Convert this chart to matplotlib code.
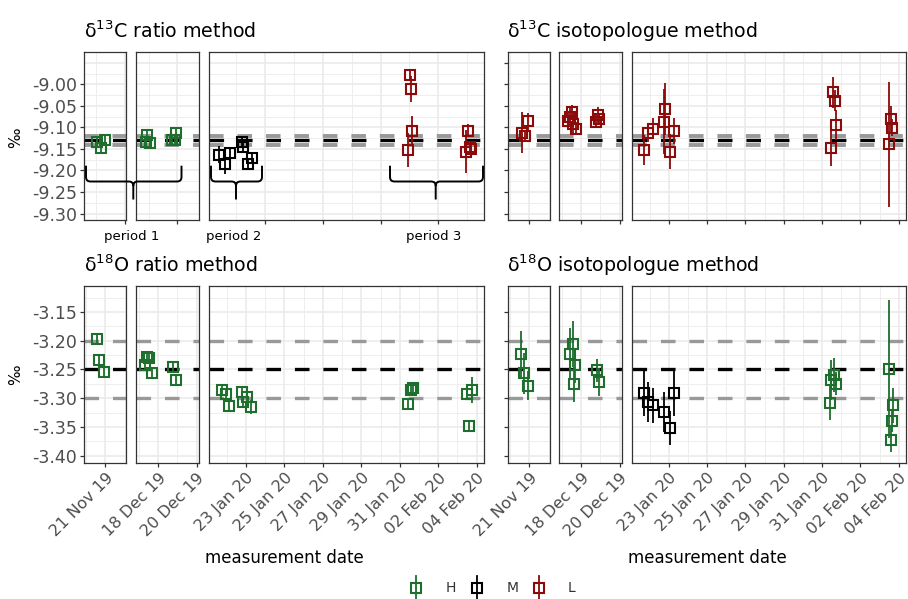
import matplotlib
matplotlib.use("Agg")
import matplotlib.pyplot as plt
import matplotlib.dates as mdates
from matplotlib.path import Path
from matplotlib.patches import PathPatch
from matplotlib.lines import Line2D
import pandas as pd

W, H = 908, 599
plt.rcParams['font.family'] = ['DejaVu Sans']
plt.rcParams['lines.scale_dashes'] = False

groups = ["H", "M", "L"]
group_colors = {"H": "#1e6e2d", "M": "#000000", "L": "#8b0a0a"}

# d13C, ratio method
c13_ratio_time = ["2019-11-20 13:30", "2019-11-20 18:00", "2019-11-20 23:00",
                  "2019-12-17 08:40", "2019-12-17 10:30", "2019-12-17 13:30",
                  "2019-12-18 17:15", "2019-12-18 21:20", "2019-12-18 22:30",
                  "2020-01-21 14:30", "2020-01-21 22:00", "2020-01-22 04:00",
                  "2020-01-22 18:30", "2020-01-22 19:40", "2020-01-23 02:30", "2020-01-23 07:30",
                  "2020-01-31 10:20", "2020-01-31 12:40", "2020-01-31 14:00", "2020-01-31 15:00",
                  "2020-02-03 10:50", "2020-02-03 13:00", "2020-02-03 15:40", "2020-02-03 16:30"]
c13_ratio_val = [-9.133, -9.148, -9.129,
                 -9.133, -9.118, -9.137, -9.129, -9.129, -9.112,
                 -9.163, -9.186, -9.159, -9.133, -9.145, -9.186, -9.171,
                 -9.153, -8.979, -9.011, -9.108, -9.156, -9.108, -9.145, -9.150]
c13_ratio_err = [0.01, 0.01, 0.01,
                 0.01, 0.01, 0.01, 0.01, 0.01, 0.01,
                 0.02, 0.022, 0.012, 0.01, 0.01, 0.012, 0.012,
                 0.04, 0.012, 0.03, 0.035, 0.05, 0.015, 0.012, 0.012]
c13_ratio_grp = ["H"] * 9 + ["M"] * 7 + ["L"] * 8

# d13C, isotopologue method
c13_iso_time = ["2019-11-20 14:30", "2019-11-20 18:00", "2019-11-20 22:00",
                "2019-12-17 08:00", "2019-12-17 10:00", "2019-12-17 12:00", "2019-12-17 13:30",
                "2019-12-17 18:00", "2019-12-18 19:00", "2019-12-18 20:30", "2019-12-18 22:00",
                "2020-01-21 16:50", "2020-01-21 22:00", "2020-01-22 03:50", "2020-01-22 17:45",
                "2020-01-22 19:40", "2020-01-23 01:30", "2020-01-23 06:40",
                "2020-01-31 11:20", "2020-01-31 13:10", "2020-01-31 15:50", "2020-01-31 17:00",
                "2020-02-03 12:00", "2020-02-03 14:10", "2020-02-03 16:05"]
c13_iso_val = [-9.112, -9.119, -9.086,
               -9.085, -9.076, -9.064, -9.091, -9.103, -9.087, -9.072, -9.080,
               -9.152, -9.114, -9.103, -9.087, -9.057, -9.156, -9.108,
               -9.149, -9.019, -9.038, -9.095, -9.139, -9.081, -9.101]
c13_iso_err = [0.047, 0.012, 0.02,
               0.02, 0.02, 0.015, 0.025, 0.015, 0.015, 0.02, 0.012,
               0.035, 0.02, 0.025, 0.075, 0.06, 0.04, 0.03,
               0.04, 0.035, 0.025, 0.035, 0.145, 0.03, 0.02]
c13_iso_grp = ["L"] * 25

# d18O, ratio method
o18_ratio_time = ["2019-11-20 13:30", "2019-11-20 16:00", "2019-11-20 22:00",
                  "2019-12-17 07:30", "2019-12-17 09:30", "2019-12-17 12:30", "2019-12-17 15:50",
                  "2019-12-18 18:45", "2019-12-18 22:05",
                  "2020-01-21 17:45", "2020-01-21 23:00", "2020-01-22 03:10", "2020-01-22 18:40",
                  "2020-01-22 19:55", "2020-01-23 01:00", "2020-01-23 05:45",
                  "2020-01-31 10:30", "2020-01-31 13:40", "2020-01-31 16:00",
                  "2020-02-03 11:30", "2020-02-03 14:50", "2020-02-03 17:45"]
o18_ratio_val = [-3.198, -3.234, -3.255,
                 -3.243, -3.229, -3.231, -3.256, -3.246, -3.268,
                 -3.286, -3.292, -3.314, -3.289, -3.307, -3.298, -3.316,
                 -3.310, -3.286, -3.283, -3.292, -3.349, -3.286]
o18_ratio_err = [0.009, 0.009, 0.009,
                 0.009, 0.009, 0.009, 0.009, 0.009, 0.009,
                 0.009, 0.009, 0.009, 0.009, 0.009, 0.009, 0.012,
                 0.009, 0.009, 0.009, 0.009, 0.01, 0.023]
o18_ratio_grp = ["H"] * 22

# d18O, isotopologue method
o18_iso_time = ["2019-11-20 14:00", "2019-11-20 17:30", "2019-11-20 22:30",
                "2019-12-17 09:50", "2019-12-17 14:00", "2019-12-17 15:00", "2019-12-17 16:00",
                "2019-12-18 19:10", "2019-12-18 22:30",
                "2020-01-21 16:50", "2020-01-21 22:00", "2020-01-22 03:50", "2020-01-22 17:45",
                "2020-01-23 01:10", "2020-01-23 06:40",
                "2020-01-31 09:50", "2020-01-31 11:20", "2020-01-31 15:20", "2020-01-31 17:30",
                "2020-02-03 12:00", "2020-02-03 14:10", "2020-02-03 16:05", "2020-02-03 17:00"]
o18_iso_val = [-3.2225, -3.257, -3.278,
               -3.2225, -3.205, -3.276, -3.243, -3.2516, -3.272,
               -3.291, -3.307, -3.3126, -3.324, -3.352, -3.291,
               -3.3085, -3.269, -3.260, -3.275, -3.2486, -3.372, -3.339, -3.3125]
o18_iso_err = [0.04, 0.035, 0.025,
               0.045, 0.04, 0.03, 0.03, 0.02, 0.025,
               0.04, 0.035, 0.03, 0.035, 0.03, 0.04,
               0.03, 0.035, 0.03, 0.02, 0.12, 0.022, 0.02, 0.03]
o18_iso_grp = ["H"] * 9 + ["M"] * 6 + ["H"] * 8

# facet ranges (one per measurement period)
panel_lims = [("2019-11-19 21:07", "2019-11-22 01:41"),
              ("2019-12-16 20:10", "2019-12-20 02:53"),
              ("2020-01-21 01:48", "2020-02-04 09:07")]
ticks_2day = [["2019-11-21"], ["2019-12-18", "2019-12-20"],
              ["2020-01-23", "2020-01-25", "2020-01-27", "2020-01-29",
               "2020-01-31", "2020-02-02", "2020-02-04"]]
minor_2day = [["2019-11-20", "2019-11-22"], ["2019-12-17", "2019-12-19"],
              ["2020-01-22", "2020-01-24", "2020-01-26", "2020-01-28",
               "2020-01-30", "2020-02-01", "2020-02-03"]]
ticks_3day = [["2019-11-22"], ["2019-12-19"],
              ["2020-01-24", "2020-01-27", "2020-01-30", "2020-02-02"]]
minor_3day = [["2019-11-20 12:00"], ["2019-12-17 12:00"],
              ["2020-01-22 12:00", "2020-01-25 12:00", "2020-01-28 12:00",
               "2020-01-31 12:00", "2020-02-03 12:00"]]

c13_ref, c13_band = -9.13, 0.01
o18_ref, o18_band = -3.25, 0.05
c13_ticks = [-9.30, -9.25, -9.20, -9.15, -9.10, -9.05, -9.00, -8.95]
o18_ticks = [-3.40, -3.35, -3.30, -3.25, -3.20, -3.15]

fig = plt.figure(figsize=(W / 100, H / 100), dpi=100)


def fx(x):
    return x / W


def fy(y):
    return 1 - y / H


def dn(lst):
    return mdates.date2num(pd.to_datetime(lst))


left_cols = [(84, 126), (136, 199), (209, 484)]
right_cols = [(508, 550), (559, 622), (632, 906)]
DASH = (10.5, 10.0)


def draw_block(cols, top, bottom, times, vals, errs, grps, ylim, yticks, ylabels,
               ref, band, grey_lw, xmajor, xminor, xlabels):
    t = dn(times)
    for i, (x0, x1) in enumerate(cols):
        ax = fig.add_axes([fx(x0), fy(bottom), (x1 - x0) / W, (bottom - top) / H])
        ax.set_xlim(dn(panel_lims[i]))
        ax.set_ylim(ylim)
        for s in ax.spines.values():
            s.set_color('#333333')
            s.set_linewidth(0.9)
        ax.set_xticks(dn(xmajor[i]))
        ax.set_xticks(dn(xminor[i]), minor=True)
        ax.set_yticks(yticks)
        ax.set_yticks([v + 0.025 for v in yticks], minor=True)
        ax.grid(which='major', color='#ebebeb', lw=1.2)
        ax.grid(which='minor', color='#ebebeb', lw=0.6)
        ax.set_axisbelow(True)
        ax.tick_params(which='minor', length=0)
        ax.tick_params(which='major', length=3.2, width=0.9, color='#333333',
                       labelcolor='#4d4d4d', pad=2)
        ax.tick_params(axis='y', labelsize=12.5)
        ax.tick_params(axis='x', labelsize=11.5)
        if xlabels:
            ax.set_xticklabels([pd.Timestamp(d).strftime('%d %b %y') for d in xmajor[i]],
                               rotation=45, ha='right', rotation_mode='anchor')
        else:
            ax.set_xticklabels([])
        if i == 0:
            ax.set_yticklabels([lab if lab is not None else '' for lab in ylabels])
            for tk, lab in zip(ax.yaxis.get_major_ticks(), ylabels):
                if lab is None:
                    tk.tick1line.set_visible(False)
        else:
            ax.tick_params(axis='y', which='major', length=0)
            ax.set_yticklabels([])
        ax.axhline(ref + band, color='#999999', lw=grey_lw, dashes=DASH)
        ax.axhline(ref - band, color='#999999', lw=grey_lw, dashes=DASH)
        ax.axhline(ref, color='black', lw=2.4, dashes=DASH)
        for g in groups:
            idx = [k for k, gg in enumerate(grps) if gg == g]
            if not idx:
                continue
            ax.errorbar([t[k] for k in idx], [vals[k] for k in idx],
                        yerr=[errs[k] for k in idx], fmt='s', ms=7.6, mfc='none',
                        mec=group_colors[g], mew=1.5, ecolor=group_colors[g],
                        elinewidth=1.3, capsize=0)


c13_lab_left = ['%.2f' % v for v in c13_ticks[:-1]] + [None]
o18_lab = ['%.2f' % v for v in o18_ticks]

draw_block(left_cols, 52, 220, c13_ratio_time, c13_ratio_val, c13_ratio_err, c13_ratio_grp,
           (-9.315, -8.933), c13_ticks, c13_lab_left, c13_ref, c13_band, 2.8,
           ticks_3day, minor_3day, False)
draw_block(right_cols, 52, 220, c13_iso_time, c13_iso_val, c13_iso_err, c13_iso_grp,
           (-9.315, -8.933), c13_ticks, [''] * 8, c13_ref, c13_band, 2.8,
           ticks_2day, minor_2day, False)
draw_block(left_cols, 286, 463, o18_ratio_time, o18_ratio_val, o18_ratio_err, o18_ratio_grp,
           (-3.4127, -3.105), o18_ticks, o18_lab, o18_ref, o18_band, 2.4,
           ticks_2day, minor_2day, True)
draw_block(right_cols, 286, 463, o18_iso_time, o18_iso_val, o18_iso_err, o18_iso_grp,
           (-3.4127, -3.105), o18_ticks, [''] * 6, o18_ref, o18_band, 2.4,
           ticks_2day, minor_2day, True)

# titles and axis labels
fig.text(fx(84), fy(37.5), r'δ$^{13}$C ratio method', fontsize=13.7, va='baseline')
fig.text(fx(507), fy(37.5), r'δ$^{13}$C isotopologue method', fontsize=13.7, va='baseline')
fig.text(fx(84), fy(271.5), r'δ$^{18}$O ratio method', fontsize=13.7, va='baseline')
fig.text(fx(507), fy(271.5), r'δ$^{18}$O isotopologue method', fontsize=13.7, va='baseline')
for yc in (138, 375):
    fig.text(fx(16), fy(yc), '‰', rotation=90, fontsize=11, ha='center', va='center')
fig.text(fx(284), fy(558), 'measurement date', fontsize=12, ha='center', va='center')
fig.text(fx(707), fy(558), 'measurement date', fontsize=12, ha='center', va='center')


# braces marking the three periods
def brace(x0, x1, xc, ytop=165.7, yh=181.5, ytip=199.5, r=4.5):
    pts = [(x0, ytop), (x0, yh - r), (x0, yh), (x0 + r, yh), (xc - r, yh), (xc, yh),
           (xc, yh + r), (xc, ytip), (xc, yh + r), (xc, yh), (xc + r, yh),
           (x1 - r, yh), (x1, yh), (x1, yh - r), (x1, ytop)]
    codes = [Path.MOVETO, Path.LINETO, Path.CURVE3, Path.CURVE3, Path.LINETO,
             Path.CURVE3, Path.CURVE3, Path.LINETO, Path.MOVETO, Path.CURVE3, Path.CURVE3,
             Path.LINETO, Path.CURVE3, Path.CURVE3, Path.LINETO]
    verts = [(fx(a), fy(b)) for a, b in pts]
    fig.add_artist(PathPatch(Path(verts, codes), transform=fig.transFigure,
                             fill=False, lw=1.4, color='black', capstyle='butt'))


period_names = ["period 1", "period 2", "period 3"]
brace_spans = [(86, 181.5, 133.3), (211, 262, 236), (390, 483, 435.7)]
for (a, b, c), name in zip(brace_spans, period_names):
    brace(a, b, c)
    fig.text(fx(c - 2), fy(236.5), name, fontsize=9.5, ha='center', va='center')

# legend
legend_x = [(416, 446), (476.5, 507), (538.5, 567.5)]
for g, (mx, tx) in zip(groups, legend_x):
    fig.add_artist(Line2D([fx(mx), fx(mx)], [fy(576), fy(600)], transform=fig.transFigure,
                          color=group_colors[g], lw=1.3))
    fig.add_artist(Line2D([fx(mx)], [fy(588)], transform=fig.transFigure, marker='s',
                          ms=7.6, mfc='none', mec=group_colors[g], mew=1.5))
    fig.text(fx(tx), fy(588), g, fontsize=10, ha='left', va='center', color='#333333')

fig.savefig('out.png', dpi=100)
